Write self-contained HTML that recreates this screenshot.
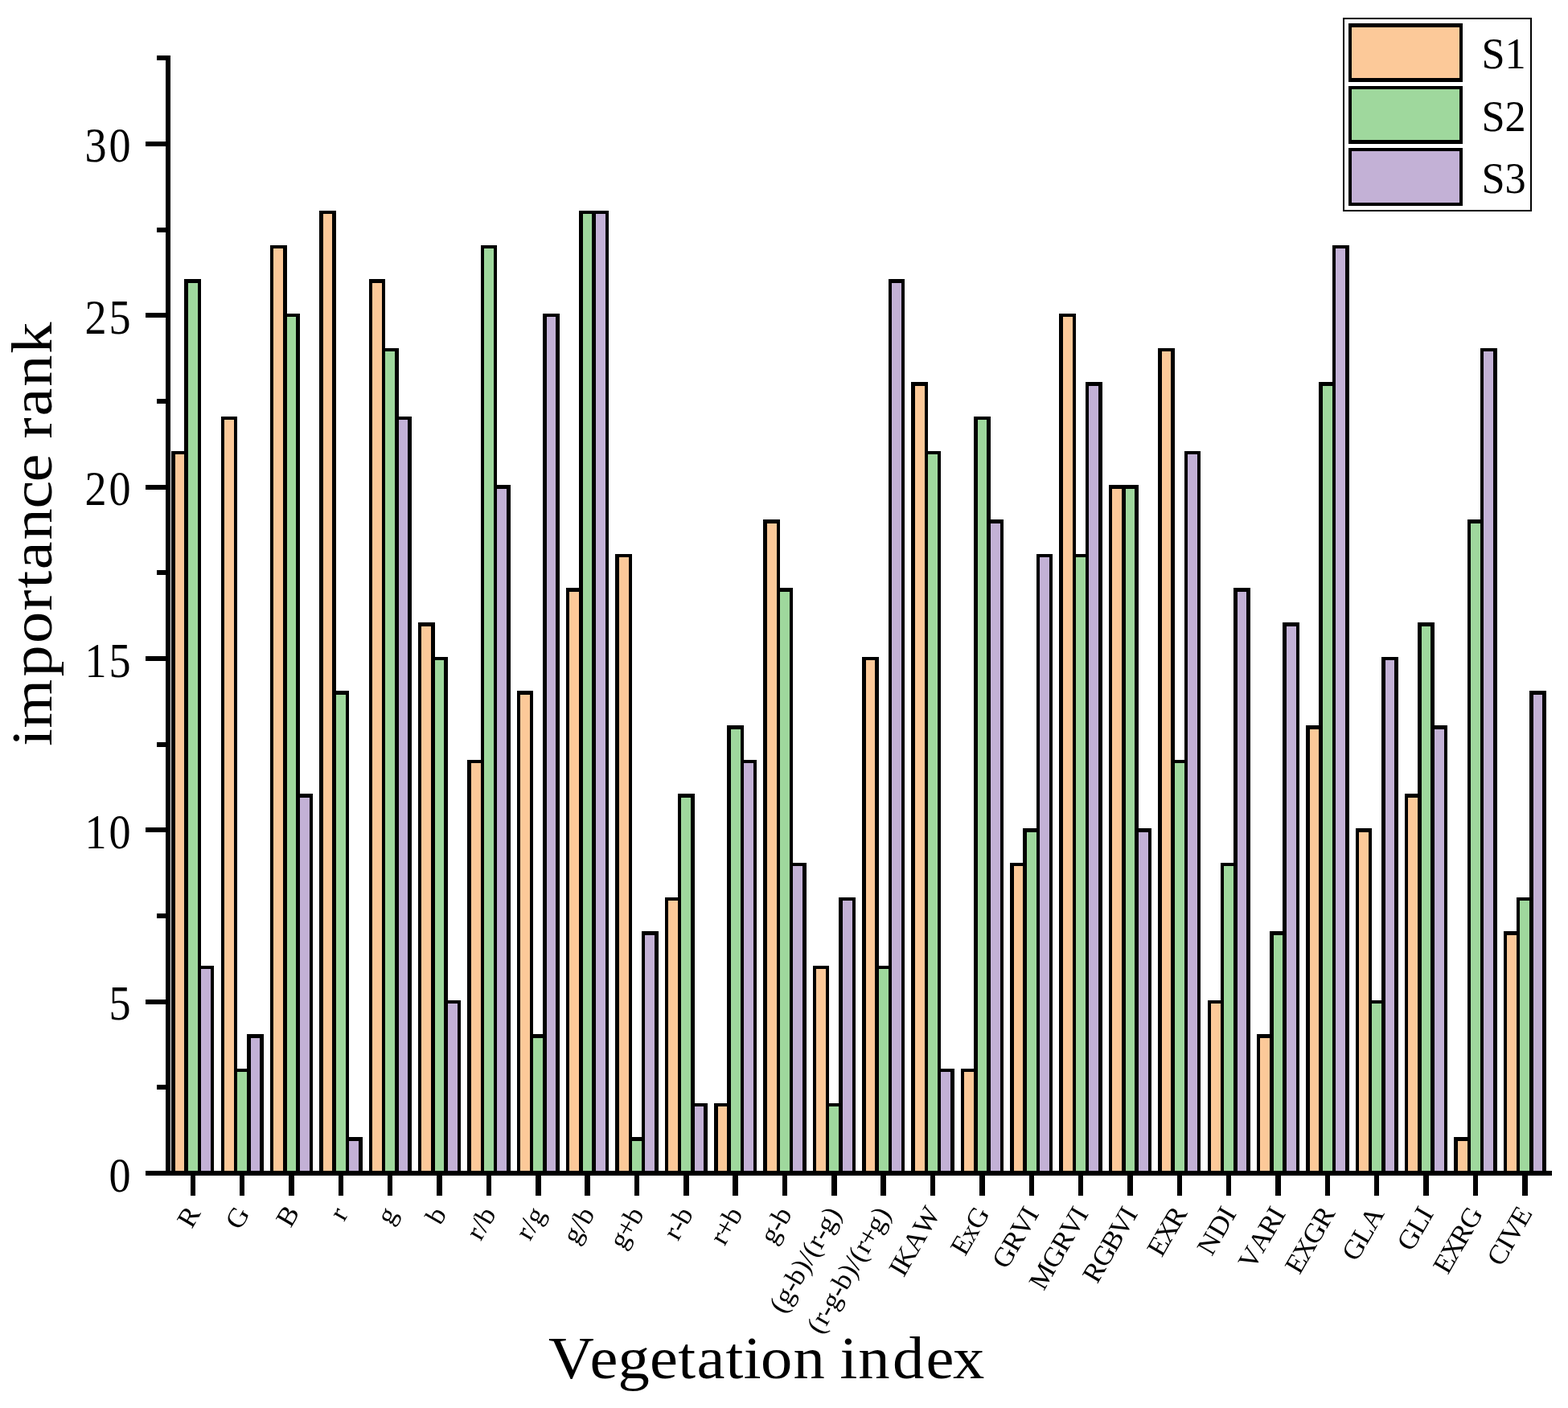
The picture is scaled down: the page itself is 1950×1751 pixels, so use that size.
<!DOCTYPE html>
<html><head><meta charset="utf-8"><title>Vegetation index importance rank</title>
<style>html,body{margin:0;padding:0;background:#fff}svg{display:block}</style></head>
<body>
<svg width="1950" height="1751" viewBox="0 0 1950 1751">
<rect width="1950" height="1751" fill="#fff"/>
<g stroke="#000" stroke-width="4.5" stroke-linejoin="miter" shape-rendering="crispEdges">
<rect x="215.40" y="562.92" width="16.27" height="896.08" fill="#FCC999"/>
<rect x="231.67" y="349.52" width="16.27" height="1109.48" fill="#9FD89D"/>
<rect x="247.94" y="1203.12" width="16.27" height="255.88" fill="#C3B1D6"/>
<rect x="276.75" y="520.24" width="16.27" height="938.76" fill="#FCC999"/>
<rect x="293.01" y="1331.16" width="16.27" height="127.84" fill="#9FD89D"/>
<rect x="309.29" y="1288.48" width="16.27" height="170.52" fill="#C3B1D6"/>
<rect x="338.10" y="306.84" width="16.27" height="1152.16" fill="#FCC999"/>
<rect x="354.37" y="392.20" width="16.27" height="1066.80" fill="#9FD89D"/>
<rect x="370.64" y="989.72" width="16.27" height="469.28" fill="#C3B1D6"/>
<rect x="399.45" y="264.16" width="16.27" height="1194.84" fill="#FCC999"/>
<rect x="415.72" y="861.68" width="16.27" height="597.32" fill="#9FD89D"/>
<rect x="431.99" y="1416.52" width="16.27" height="42.48" fill="#C3B1D6"/>
<rect x="460.80" y="349.52" width="16.27" height="1109.48" fill="#FCC999"/>
<rect x="477.07" y="434.88" width="16.27" height="1024.12" fill="#9FD89D"/>
<rect x="493.34" y="520.24" width="16.27" height="938.76" fill="#C3B1D6"/>
<rect x="522.14" y="776.32" width="16.27" height="682.68" fill="#FCC999"/>
<rect x="538.41" y="819.00" width="16.27" height="640.00" fill="#9FD89D"/>
<rect x="554.68" y="1245.80" width="16.27" height="213.20" fill="#C3B1D6"/>
<rect x="583.50" y="947.04" width="16.27" height="511.96" fill="#FCC999"/>
<rect x="599.77" y="306.84" width="16.27" height="1152.16" fill="#9FD89D"/>
<rect x="616.04" y="605.60" width="16.27" height="853.40" fill="#C3B1D6"/>
<rect x="644.85" y="861.68" width="16.27" height="597.32" fill="#FCC999"/>
<rect x="661.12" y="1288.48" width="16.27" height="170.52" fill="#9FD89D"/>
<rect x="677.38" y="392.20" width="16.27" height="1066.80" fill="#C3B1D6"/>
<rect x="706.20" y="733.64" width="16.27" height="725.36" fill="#FCC999"/>
<rect x="722.47" y="264.16" width="16.27" height="1194.84" fill="#9FD89D"/>
<rect x="738.74" y="264.16" width="16.27" height="1194.84" fill="#C3B1D6"/>
<rect x="767.55" y="690.96" width="16.27" height="768.04" fill="#FCC999"/>
<rect x="783.82" y="1416.52" width="16.27" height="42.48" fill="#9FD89D"/>
<rect x="800.09" y="1160.44" width="16.27" height="298.56" fill="#C3B1D6"/>
<rect x="828.89" y="1117.76" width="16.27" height="341.24" fill="#FCC999"/>
<rect x="845.16" y="989.72" width="16.27" height="469.28" fill="#9FD89D"/>
<rect x="861.43" y="1373.84" width="16.27" height="85.16" fill="#C3B1D6"/>
<rect x="890.25" y="1373.84" width="16.27" height="85.16" fill="#FCC999"/>
<rect x="906.52" y="904.36" width="16.27" height="554.64" fill="#9FD89D"/>
<rect x="922.79" y="947.04" width="16.27" height="511.96" fill="#C3B1D6"/>
<rect x="951.60" y="648.28" width="16.27" height="810.72" fill="#FCC999"/>
<rect x="967.87" y="733.64" width="16.27" height="725.36" fill="#9FD89D"/>
<rect x="984.13" y="1075.08" width="16.27" height="383.92" fill="#C3B1D6"/>
<rect x="1012.95" y="1203.12" width="16.27" height="255.88" fill="#FCC999"/>
<rect x="1029.22" y="1373.84" width="16.27" height="85.16" fill="#9FD89D"/>
<rect x="1045.49" y="1117.76" width="16.27" height="341.24" fill="#C3B1D6"/>
<rect x="1074.30" y="819.00" width="16.27" height="640.00" fill="#FCC999"/>
<rect x="1090.57" y="1203.12" width="16.27" height="255.88" fill="#9FD89D"/>
<rect x="1106.84" y="349.52" width="16.27" height="1109.48" fill="#C3B1D6"/>
<rect x="1135.64" y="477.56" width="16.27" height="981.44" fill="#FCC999"/>
<rect x="1151.91" y="562.92" width="16.27" height="896.08" fill="#9FD89D"/>
<rect x="1168.18" y="1331.16" width="16.27" height="127.84" fill="#C3B1D6"/>
<rect x="1197.00" y="1331.16" width="16.27" height="127.84" fill="#FCC999"/>
<rect x="1213.27" y="520.24" width="16.27" height="938.76" fill="#9FD89D"/>
<rect x="1229.54" y="648.28" width="16.27" height="810.72" fill="#C3B1D6"/>
<rect x="1258.35" y="1075.08" width="16.27" height="383.92" fill="#FCC999"/>
<rect x="1274.62" y="1032.40" width="16.27" height="426.60" fill="#9FD89D"/>
<rect x="1290.88" y="690.96" width="16.27" height="768.04" fill="#C3B1D6"/>
<rect x="1319.69" y="392.20" width="16.27" height="1066.80" fill="#FCC999"/>
<rect x="1335.96" y="690.96" width="16.27" height="768.04" fill="#9FD89D"/>
<rect x="1352.23" y="477.56" width="16.27" height="981.44" fill="#C3B1D6"/>
<rect x="1381.05" y="605.60" width="16.27" height="853.40" fill="#FCC999"/>
<rect x="1397.32" y="605.60" width="16.27" height="853.40" fill="#9FD89D"/>
<rect x="1413.59" y="1032.40" width="16.27" height="426.60" fill="#C3B1D6"/>
<rect x="1442.39" y="434.88" width="16.27" height="1024.12" fill="#FCC999"/>
<rect x="1458.66" y="947.04" width="16.27" height="511.96" fill="#9FD89D"/>
<rect x="1474.93" y="562.92" width="16.27" height="896.08" fill="#C3B1D6"/>
<rect x="1503.75" y="1245.80" width="16.27" height="213.20" fill="#FCC999"/>
<rect x="1520.02" y="1075.08" width="16.27" height="383.92" fill="#9FD89D"/>
<rect x="1536.29" y="733.64" width="16.27" height="725.36" fill="#C3B1D6"/>
<rect x="1565.10" y="1288.48" width="16.27" height="170.52" fill="#FCC999"/>
<rect x="1581.37" y="1160.44" width="16.27" height="298.56" fill="#9FD89D"/>
<rect x="1597.63" y="776.32" width="16.27" height="682.68" fill="#C3B1D6"/>
<rect x="1626.44" y="904.36" width="16.27" height="554.64" fill="#FCC999"/>
<rect x="1642.71" y="477.56" width="16.27" height="981.44" fill="#9FD89D"/>
<rect x="1658.98" y="306.84" width="16.27" height="1152.16" fill="#C3B1D6"/>
<rect x="1687.80" y="1032.40" width="16.27" height="426.60" fill="#FCC999"/>
<rect x="1704.07" y="1245.80" width="16.27" height="213.20" fill="#9FD89D"/>
<rect x="1720.34" y="819.00" width="16.27" height="640.00" fill="#C3B1D6"/>
<rect x="1749.14" y="989.72" width="16.27" height="469.28" fill="#FCC999"/>
<rect x="1765.41" y="776.32" width="16.27" height="682.68" fill="#9FD89D"/>
<rect x="1781.68" y="904.36" width="16.27" height="554.64" fill="#C3B1D6"/>
<rect x="1810.50" y="1416.52" width="16.27" height="42.48" fill="#FCC999"/>
<rect x="1826.77" y="648.28" width="16.27" height="810.72" fill="#9FD89D"/>
<rect x="1843.04" y="434.88" width="16.27" height="1024.12" fill="#C3B1D6"/>
<rect x="1871.85" y="1160.44" width="16.27" height="298.56" fill="#FCC999"/>
<rect x="1888.12" y="1117.76" width="16.27" height="341.24" fill="#9FD89D"/>
<rect x="1904.38" y="861.68" width="16.27" height="597.32" fill="#C3B1D6"/>
</g>
<g fill="#000" shape-rendering="crispEdges">
<rect x="181" y="1456.0" width="1749" height="6"/>
<rect x="206" y="69" width="6" height="1393.0"/>
<rect x="195" y="1349.33" width="12" height="6"/>
<rect x="181" y="1242.66" width="26" height="6"/>
<rect x="195" y="1136.00" width="12" height="6"/>
<rect x="181" y="1029.33" width="26" height="6"/>
<rect x="195" y="922.66" width="12" height="6"/>
<rect x="181" y="816.00" width="26" height="6"/>
<rect x="195" y="709.33" width="12" height="6"/>
<rect x="181" y="602.66" width="26" height="6"/>
<rect x="195" y="495.99" width="12" height="6"/>
<rect x="181" y="389.33" width="26" height="6"/>
<rect x="195" y="282.66" width="12" height="6"/>
<rect x="181" y="175.99" width="26" height="6"/>
<rect x="195" y="69.32" width="12" height="6"/>
<rect x="236.55" y="1459.0" width="6.5" height="28.0"/>
<rect x="297.90" y="1459.0" width="6.5" height="28.0"/>
<rect x="359.25" y="1459.0" width="6.5" height="28.0"/>
<rect x="420.60" y="1459.0" width="6.5" height="28.0"/>
<rect x="481.95" y="1459.0" width="6.5" height="28.0"/>
<rect x="543.30" y="1459.0" width="6.5" height="28.0"/>
<rect x="604.65" y="1459.0" width="6.5" height="28.0"/>
<rect x="666.00" y="1459.0" width="6.5" height="28.0"/>
<rect x="727.35" y="1459.0" width="6.5" height="28.0"/>
<rect x="788.70" y="1459.0" width="6.5" height="28.0"/>
<rect x="850.05" y="1459.0" width="6.5" height="28.0"/>
<rect x="911.40" y="1459.0" width="6.5" height="28.0"/>
<rect x="972.75" y="1459.0" width="6.5" height="28.0"/>
<rect x="1034.10" y="1459.0" width="6.5" height="28.0"/>
<rect x="1095.45" y="1459.0" width="6.5" height="28.0"/>
<rect x="1156.80" y="1459.0" width="6.5" height="28.0"/>
<rect x="1218.15" y="1459.0" width="6.5" height="28.0"/>
<rect x="1279.50" y="1459.0" width="6.5" height="28.0"/>
<rect x="1340.85" y="1459.0" width="6.5" height="28.0"/>
<rect x="1402.20" y="1459.0" width="6.5" height="28.0"/>
<rect x="1463.55" y="1459.0" width="6.5" height="28.0"/>
<rect x="1524.90" y="1459.0" width="6.5" height="28.0"/>
<rect x="1586.25" y="1459.0" width="6.5" height="28.0"/>
<rect x="1647.60" y="1459.0" width="6.5" height="28.0"/>
<rect x="1708.95" y="1459.0" width="6.5" height="28.0"/>
<rect x="1770.30" y="1459.0" width="6.5" height="28.0"/>
<rect x="1831.65" y="1459.0" width="6.5" height="28.0"/>
<rect x="1893.00" y="1459.0" width="6.5" height="28.0"/>
</g>
<g font-family="'Liberation Serif', serif" font-size="61.5" text-anchor="end" fill="#000">
<text transform="translate(165.5,1481.50) scale(0.88,1)" letter-spacing="3.34">0</text>
<text transform="translate(165.5,1268.16) scale(0.88,1)" letter-spacing="3.34">5</text>
<text transform="translate(165.5,1054.83) scale(0.88,1)" letter-spacing="3.34">10</text>
<text transform="translate(165.5,841.50) scale(0.88,1)" letter-spacing="3.34">15</text>
<text transform="translate(165.5,628.16) scale(0.88,1)" letter-spacing="3.34">20</text>
<text transform="translate(165.5,414.83) scale(0.88,1)" letter-spacing="3.34">25</text>
<text transform="translate(165.5,201.49) scale(0.88,1)" letter-spacing="3.34">30</text>
</g>
<g font-family="'Liberation Serif', serif" fill="#000">
<text transform="translate(240.40,1503.9) rotate(-60) scale(1.04,1)" x="-21.78" y="10.8" font-size="34">R</text>
<text transform="translate(301.75,1503.9) rotate(-60) scale(1.04,1)" x="-24.20" y="10.8" font-size="34">G</text>
<text transform="translate(363.10,1503.9) rotate(-60) scale(1.04,1)" x="-20.89" y="10.8" font-size="34">B</text>
<text transform="translate(424.45,1503.9) rotate(-60) scale(1.04,1)" x="-11.83" y="10.8" font-size="34">r</text>
<text transform="translate(485.80,1503.9) rotate(-60) scale(1.04,1)" x="-17.19" y="10.8" font-size="34">g</text>
<text transform="translate(547.15,1503.9) rotate(-60) scale(1.04,1)" x="-17.14" y="10.8" font-size="34">b</text>
<text transform="translate(608.50,1503.9) rotate(-60) scale(1.04,1)" x="-38.80 -26.85 -17.14" y="10.8" font-size="34">r/b</text>
<text transform="translate(669.85,1503.9) rotate(-60) scale(1.04,1)" x="-38.90 -26.94 -17.19" y="10.8" font-size="34">r/g</text>
<text transform="translate(731.20,1503.9) rotate(-60) scale(1.04,1)" x="-44.16 -26.85 -17.14" y="10.8" font-size="34">g/b</text>
<text transform="translate(792.55,1503.9) rotate(-60) scale(1.04,1)" x="-50.72 -34.99 -17.14" y="10.8" font-size="34">g+b</text>
<text transform="translate(853.90,1503.9) rotate(-60) scale(1.04,1)" x="-38.80 -27.79 -17.14" y="10.8" font-size="34">r-b</text>
<text transform="translate(915.25,1503.9) rotate(-60) scale(1.04,1)" x="-45.36 -34.99 -17.14" y="10.8" font-size="34">r+b</text>
<text transform="translate(976.60,1503.9) rotate(-60) scale(1.04,1)" x="-44.16 -27.79 -17.14" y="10.8" font-size="34">g-b</text>
<text transform="translate(1037.95,1503.9) rotate(-60) scale(1.04,1)" x="-139.57 -127.94 -111.57 -100.92 -83.66 -72.10 -62.41 -50.46 -39.44 -28.75 -11.44" y="10.8" font-size="34">(g-b)/(r-g)</text>
<text transform="translate(1099.30,1503.9) rotate(-60) scale(1.04,1)" x="-168.16 -156.21 -145.19 -134.50 -118.13 -107.48 -90.22 -78.66 -68.97 -57.02 -46.65 -28.75 -11.44" y="10.8" font-size="34">(r-g-b)/(r+g)</text>
<text transform="translate(1160.65,1503.9) rotate(-60) scale(1.04,1)" x="-89.18 -79.18 -55.68 -31.67" y="10.8" font-size="34">IKAW</text>
<text transform="translate(1222.00,1503.9) rotate(-60) scale(1.04,1)" x="-59.90 -40.41 -24.20" y="10.8" font-size="34">ExG</text>
<text transform="translate(1283.35,1503.9) rotate(-60) scale(1.04,1)" x="-78.16 -54.87 -34.09 -10.93" y="10.8" font-size="34">GRVI</text>
<text transform="translate(1344.70,1503.9) rotate(-60) scale(1.04,1)" x="-107.71 -78.16 -54.87 -34.09 -10.93" y="10.8" font-size="34">MGRVI</text>
<text transform="translate(1406.05,1503.9) rotate(-60) scale(1.04,1)" x="-97.81 -76.38 -53.98 -34.09 -10.93" y="10.8" font-size="34">RGBVI</text>
<text transform="translate(1467.40,1503.9) rotate(-60) scale(1.04,1)" x="-61.65 -43.57 -21.78" y="10.8" font-size="34">EXR</text>
<text transform="translate(1528.75,1503.9) rotate(-60) scale(1.04,1)" x="-59.98 -34.90 -10.93" y="10.8" font-size="34">NDI</text>
<text transform="translate(1590.10,1503.9) rotate(-60) scale(1.04,1)" x="-79.27 -55.84 -32.31 -10.93" y="10.8" font-size="34">VARI</text>
<text transform="translate(1651.45,1503.9) rotate(-60) scale(1.04,1)" x="-85.50 -67.41 -45.07 -21.78" y="10.8" font-size="34">EXGR</text>
<text transform="translate(1712.80,1503.9) rotate(-60) scale(1.04,1)" x="-67.60 -44.25 -24.43" y="10.8" font-size="34">GLA</text>
<text transform="translate(1774.15,1503.9) rotate(-60) scale(1.04,1)" x="-53.82 -30.47 -10.93" y="10.8" font-size="34">GLI</text>
<text transform="translate(1835.50,1503.9) rotate(-60) scale(1.04,1)" x="-85.50 -67.41 -45.62 -24.20" y="10.8" font-size="34">EXRG</text>
<text transform="translate(1896.85,1503.9) rotate(-60) scale(1.04,1)" x="-74.60 -52.58 -42.65 -19.93" y="10.8" font-size="34">CIVE</text>
</g>
<g font-family="'Liberation Serif', serif" fill="#000">
<text transform="translate(682,1714.3) scale(1.07,1)" x="0.00 48.20 80.87 117.65 150.76 172.38 206.19 226.89 246.82 284.66 321.76 338.89 360.02 400.04 438.67 470.00" y="0" font-size="73.5">Vegetation index</text>
<text transform="translate(64,928) rotate(-90) scale(1.08,1)" x="0.00 20.63 80.17 118.41 155.83 181.86 203.37 237.41 273.64 304.41 335.74 354.23 380.04 414.08 452.01" y="0" font-size="72.5">importance rank</text>
</g>
<rect x="1671" y="23" width="233" height="239" fill="#fff" stroke="#000" stroke-width="2" shape-rendering="crispEdges"/>
<rect x="1679.2" y="31.4" width="137.7" height="68.1" fill="#FCC999" stroke="#000" stroke-width="4.5" shape-rendering="crispEdges"/>
<text x="1842.4" y="85.0" font-family="'Liberation Serif', serif" font-size="54.3" textLength="55.3" lengthAdjust="spacingAndGlyphs">S1</text>
<rect x="1679.2" y="109.0" width="137.7" height="67.5" fill="#9FD89D" stroke="#000" stroke-width="4.5" shape-rendering="crispEdges"/>
<text x="1842.4" y="162.7" font-family="'Liberation Serif', serif" font-size="54.3" textLength="55.3" lengthAdjust="spacingAndGlyphs">S2</text>
<rect x="1679.2" y="186.0" width="137.7" height="67.9" fill="#C3B1D6" stroke="#000" stroke-width="4.5" shape-rendering="crispEdges"/>
<text x="1842.4" y="240.0" font-family="'Liberation Serif', serif" font-size="54.3" textLength="55.3" lengthAdjust="spacingAndGlyphs">S3</text>
</svg>
</body></html>
